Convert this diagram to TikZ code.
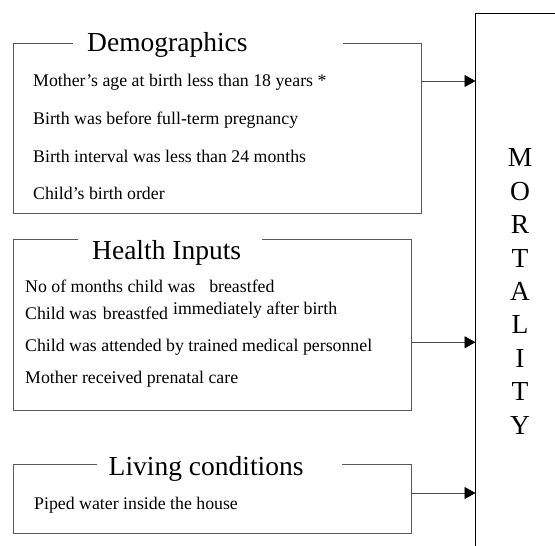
\documentclass[tikz,border=0pt]{standalone}
\usepackage{fontspec}
\setmainfont{Liberation Serif}
\usetikzlibrary{arrows.meta}

\tikzset{
  panel/.style={draw=none, inner sep=0pt, outer sep=0pt},
  frame/.style={draw=black!65, line width=0.9pt},
  heading/.style={anchor=base west, inner sep=0pt, font=\fontsize{27.5}{32}\selectfont},
  item/.style={anchor=base west, inner sep=0pt, font=\fontsize{17.8}{21}\selectfont},
  flow/.style={draw=black!70, line width=0.8pt, -{Triangle[length=11pt,width=12pt,color=black,fill=black]}},
  outcome/.style={draw=black, line width=1pt, inner sep=0pt, outer sep=0pt},
  letters/.style={align=center, inner sep=0pt, font=\fontsize{27.5}{33.4}\selectfont}
}

\begin{document}
\begin{tikzpicture}[x=1pt, y=-1pt]
\clip (0,0) rectangle (555,546);
\fill[white] (0,0) rectangle (555,546);

% outcome box on the right, running off the page
\node[outcome, minimum width=124pt, minimum height=587pt] (mort) at (537.5,306.5) {};
\node[letters] (mortlbl) at (520,291.5) {M\\O\\R\\T\\A\\L\\I\\T\\Y};

% demographics panel
\node[panel, minimum width=408pt, minimum height=169.5pt] (demo) at (217,128.25) {};
\draw[frame] ([xshift=60pt]demo.north west) -| (demo.south west) -| (demo.north east) -- ([xshift=-78pt]demo.north east);
\node[heading] (demoT) at (87,51.5) {Demographics};
\node[item] (d1) at (33,86.5) {Mother’s age at birth less than 18 years *};
\node[item] (d2) at (33,124.5) {Birth was before full-term pregnancy};
\node[item] (d3) at (33,162) {Birth interval was less than 24 months};
\node[item] (d4) at (33,199.5) {Child’s birth order};

% health inputs panel
\node[panel, minimum width=398pt, minimum height=171.5pt] (health) at (212,325) {};
\draw[frame] ([xshift=65pt]health.north west) -| (health.south west) -| (health.north east) -- ([xshift=-149pt]health.north east);
\node[heading] (healthT) at (92,259.5) {Health Inputs};
\node[item] (h1) at (25,292) {No of months child was\hspace{14pt}breastfed};
\node[item] (h2) at (25,319) {Child was\hspace{6pt}breastfed\hspace{5pt}\raisebox{5pt}{immediately after birth}};
\node[item] (h3) at (25,351) {Child was attended by trained medical personnel};
\node[item] (h4) at (25,383) {Mother received prenatal care};

% living conditions panel
\node[panel, minimum width=398pt, minimum height=69pt] (living) at (212,498.5) {};
\draw[frame] ([xshift=84pt]living.north west) -| (living.south west) -| (living.north east) -- ([xshift=-69pt]living.north east);
\node[heading] (livingT) at (108.5,475.5) {Living conditions};
\node[item] (l1) at (34,509.5) {Piped water inside the house};

% connectors into the outcome box
\coordinate (demoOut) at ([yshift=-37.5pt]demo.north east);
\coordinate (healthOut) at ([yshift=-103pt]health.north east);
\coordinate (livingOut) at ([yshift=-29pt]living.north east);
\draw[flow] (demoOut) -- (demoOut -| mort.west);
\draw[flow] (healthOut) -- (healthOut -| mort.west);
\draw[flow] (livingOut) -- (livingOut -| mort.west);
\end{tikzpicture}
\end{document}
